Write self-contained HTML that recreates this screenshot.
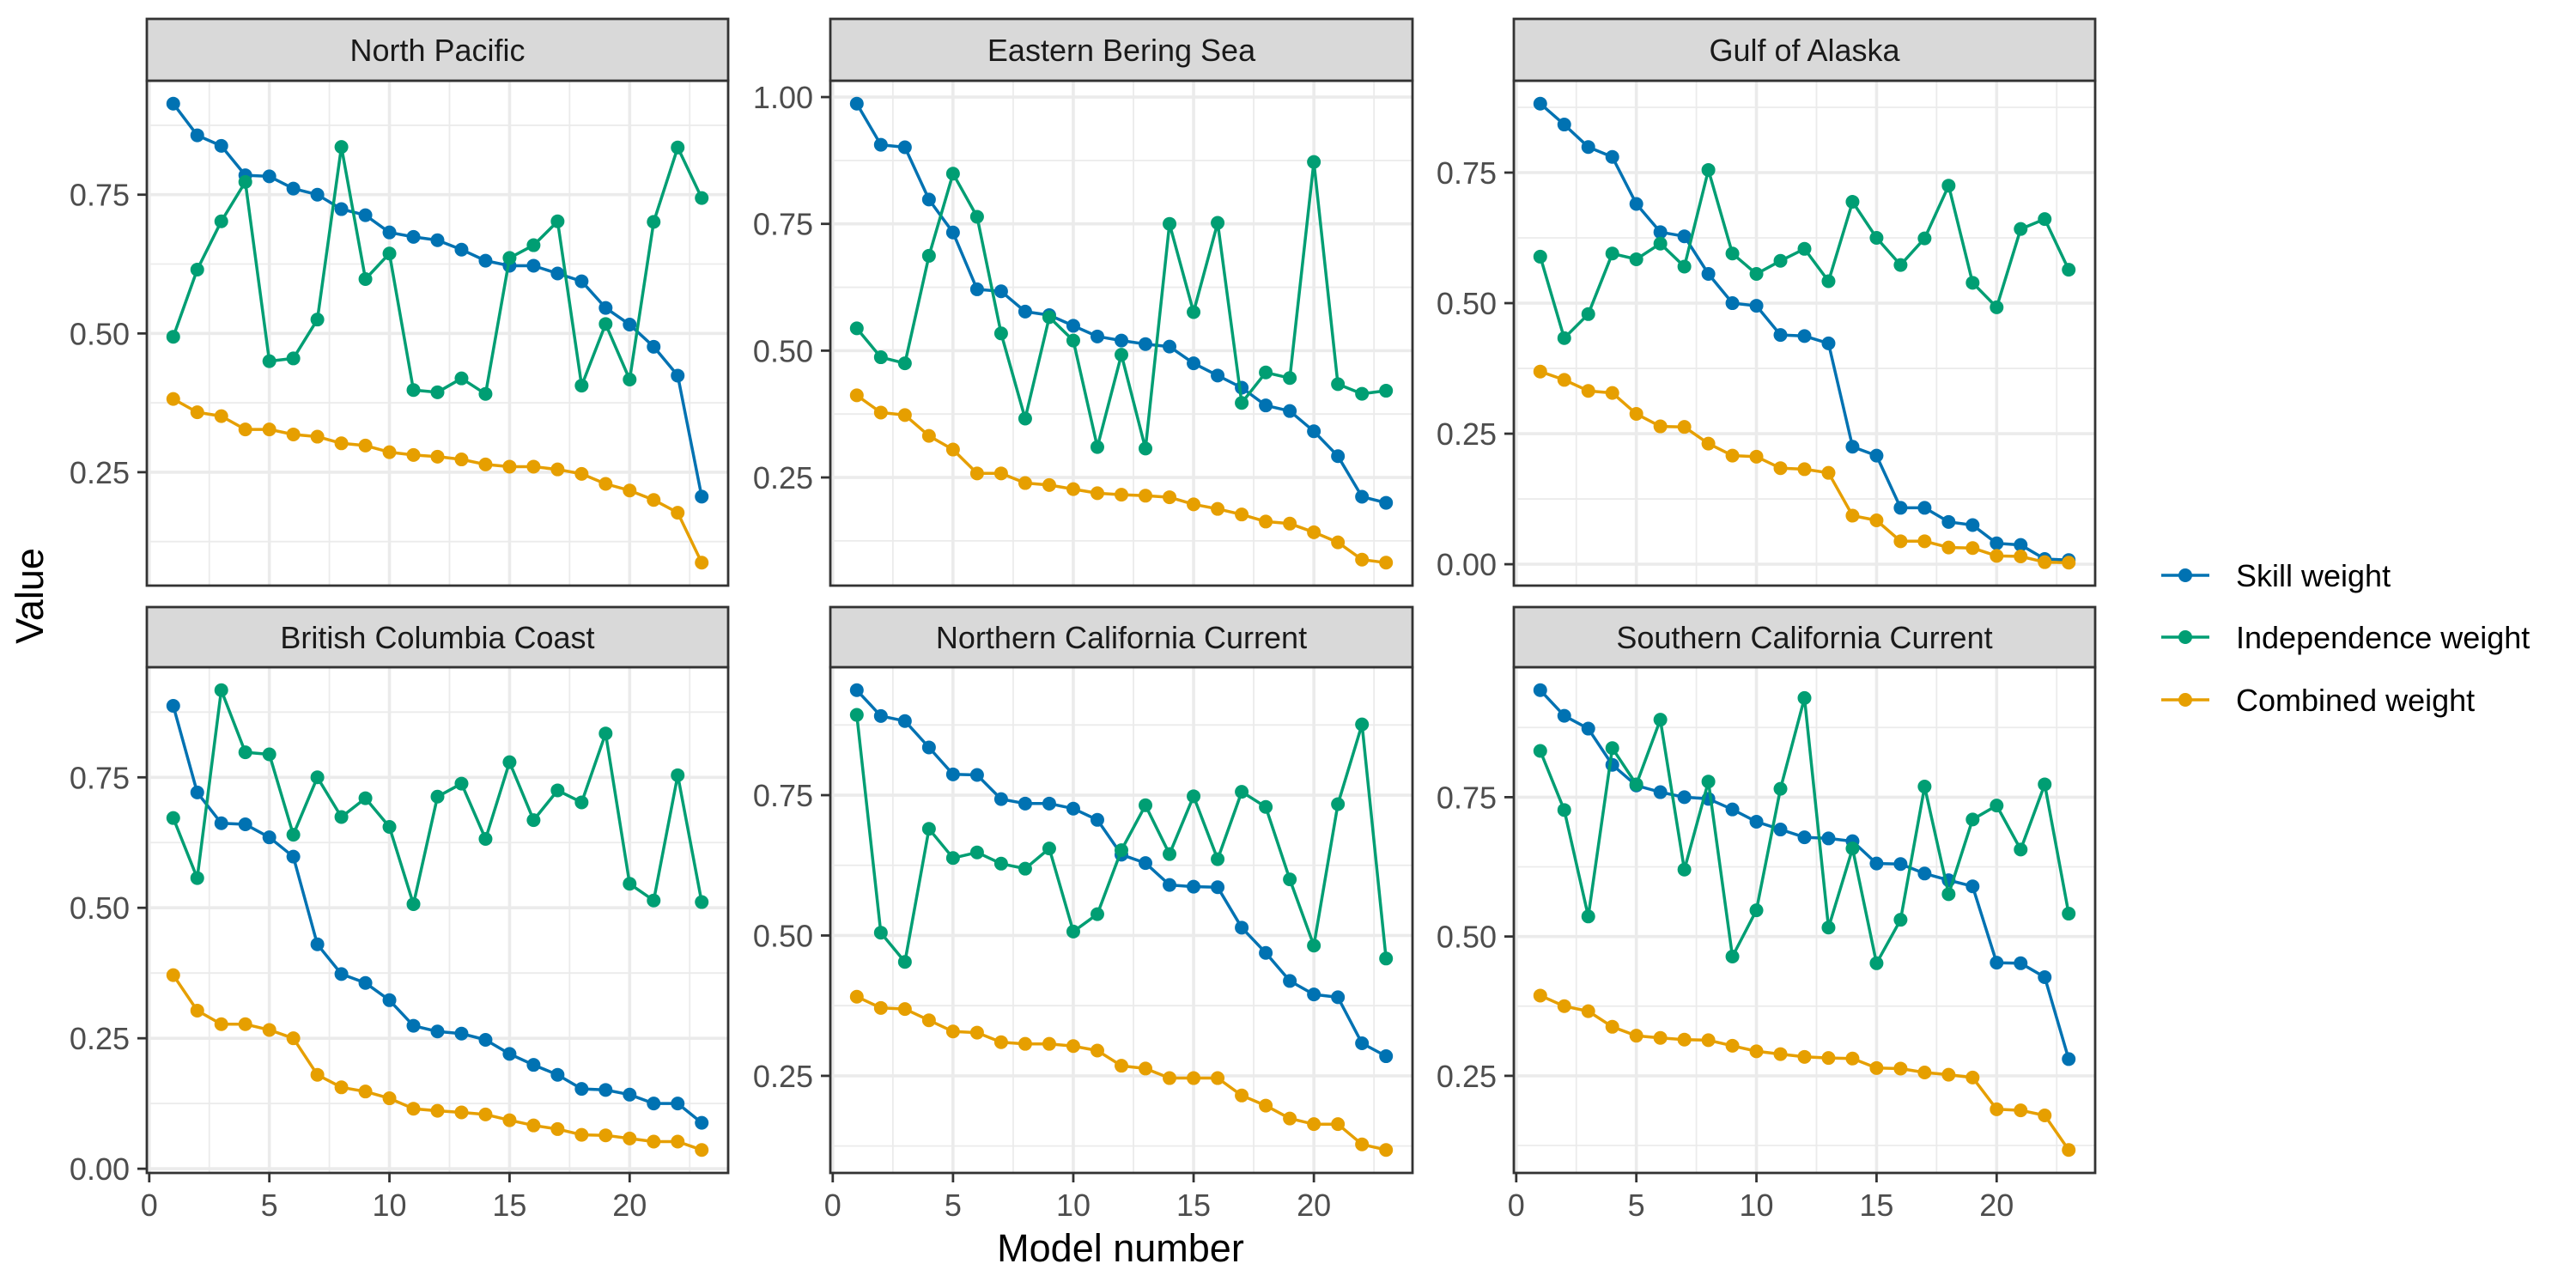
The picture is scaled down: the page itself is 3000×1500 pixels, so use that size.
<!DOCTYPE html>
<html><head><meta charset="utf-8">
<style>
html,body{margin:0;padding:0;background:#fff;}
svg{display:block;font-family:"Liberation Sans",Arial,sans-serif;}
</style></head>
<body>
<svg id="chart" width="3000" height="1500" viewBox="0 0 3000 1500" xmlns="http://www.w3.org/2000/svg">
<rect width="3000" height="1500" fill="#ffffff"/>
<text x="0" y="0" transform="translate(50,694) rotate(-90)" text-anchor="middle" font-size="45" fill="#000">Value</text>
<text x="1305" y="1469" text-anchor="middle" font-size="45" fill="#000">Model number</text>
<g id="legend"></g>
</svg>
<script>
const panelNames = ["North Pacific","Eastern Bering Sea","Gulf of Alaska","British Columbia Coast","Northern California Current","Southern California Current"];
const seriesNames = ["Skill weight","Independence weight","Combined weight"];
const seriesColors = ["#0072B2","#009E73","#E69F00"];
const modelNumbers = [1,2,3,4,5,6,7,8,9,10,11,12,13,14,15,16,17,18,19,20,21,22,23];
const xTicks = [0,5,10,15,20];

const npSkill = [0.914,0.857,0.838,0.785,0.783,0.761,0.75,0.724,0.713,0.682,0.674,0.668,0.651,0.631,0.622,0.622,0.608,0.594,0.546,0.516,0.476,0.424,0.206];
const npIndep = [0.494,0.615,0.702,0.773,0.45,0.455,0.525,0.836,0.598,0.644,0.398,0.394,0.419,0.391,0.636,0.659,0.702,0.406,0.517,0.417,0.701,0.835,0.744];
const npComb  = [0.382,0.358,0.351,0.327,0.327,0.318,0.314,0.302,0.298,0.286,0.281,0.278,0.273,0.264,0.26,0.26,0.255,0.247,0.229,0.217,0.2,0.177,0.087];

const ebsSkill = [0.987,0.906,0.901,0.798,0.733,0.621,0.617,0.577,0.57,0.549,0.528,0.52,0.513,0.508,0.475,0.451,0.427,0.392,0.381,0.341,0.292,0.212,0.2];
const ebsIndep = [0.544,0.487,0.475,0.687,0.849,0.764,0.534,0.366,0.566,0.52,0.31,0.492,0.307,0.75,0.576,0.752,0.397,0.457,0.446,0.872,0.434,0.415,0.421];
const ebsComb  = [0.412,0.378,0.373,0.332,0.305,0.258,0.258,0.239,0.235,0.227,0.219,0.216,0.214,0.211,0.197,0.188,0.177,0.163,0.159,0.142,0.122,0.088,0.082];

const goaSkill = [0.882,0.842,0.799,0.78,0.69,0.636,0.628,0.556,0.5,0.495,0.439,0.437,0.423,0.225,0.208,0.108,0.108,0.081,0.075,0.04,0.037,0.01,0.008];
const goaIndep = [0.589,0.433,0.479,0.595,0.584,0.614,0.57,0.755,0.595,0.556,0.581,0.604,0.542,0.694,0.625,0.573,0.624,0.725,0.539,0.492,0.642,0.661,0.564];
const goaComb  = [0.369,0.353,0.332,0.328,0.288,0.264,0.263,0.231,0.208,0.206,0.184,0.182,0.175,0.093,0.084,0.044,0.044,0.032,0.031,0.016,0.015,0.004,0.003];

const bcSkill = [0.887,0.721,0.662,0.66,0.635,0.598,0.43,0.373,0.356,0.323,0.274,0.263,0.259,0.247,0.22,0.199,0.18,0.153,0.151,0.142,0.125,0.125,0.088];
const bcIndep = [0.672,0.557,0.917,0.798,0.794,0.64,0.75,0.674,0.71,0.655,0.507,0.713,0.738,0.632,0.779,0.668,0.725,0.702,0.834,0.546,0.514,0.754,0.511];
const bcComb  = [0.371,0.303,0.277,0.277,0.266,0.25,0.18,0.156,0.148,0.135,0.115,0.111,0.108,0.104,0.093,0.083,0.076,0.065,0.064,0.058,0.052,0.052,0.036];

const nccSkill = [0.937,0.891,0.882,0.835,0.787,0.786,0.743,0.735,0.735,0.726,0.706,0.644,0.629,0.59,0.587,0.586,0.514,0.469,0.419,0.395,0.39,0.308,0.285];
const nccIndep = [0.893,0.505,0.453,0.69,0.638,0.648,0.628,0.619,0.655,0.507,0.538,0.652,0.732,0.645,0.748,0.636,0.756,0.729,0.6,0.482,0.734,0.876,0.459];
const nccComb  = [0.391,0.371,0.369,0.349,0.329,0.327,0.31,0.307,0.307,0.303,0.295,0.268,0.263,0.246,0.246,0.246,0.215,0.197,0.174,0.164,0.164,0.128,0.118];

const sccSkill = [0.942,0.896,0.873,0.808,0.771,0.759,0.75,0.747,0.728,0.706,0.692,0.678,0.676,0.671,0.631,0.63,0.613,0.601,0.59,0.453,0.452,0.427,0.28];
const sccIndep = [0.833,0.727,0.536,0.838,0.773,0.889,0.62,0.778,0.464,0.547,0.765,0.928,0.516,0.658,0.452,0.53,0.769,0.576,0.71,0.735,0.656,0.773,0.541];
const sccComb  = [0.394,0.375,0.366,0.338,0.322,0.318,0.315,0.314,0.304,0.294,0.289,0.284,0.282,0.281,0.264,0.263,0.256,0.252,0.247,0.19,0.188,0.179,0.117];

const panelSeries = [
  [npSkill,npIndep,npComb],[ebsSkill,ebsIndep,ebsComb],[goaSkill,goaIndep,goaComb],
  [bcSkill,bcIndep,bcComb],[nccSkill,nccIndep,nccComb],[sccSkill,sccIndep,sccComb]
];

const NS="http://www.w3.org/2000/svg";
const svg=document.getElementById('chart');
function mk(tag,attrs,parent){const e=document.createElementNS(NS,tag);for(const k in attrs)e.setAttribute(k,attrs[k]);(parent||svg).appendChild(e);return e;}

const cols=[[171,848],[967,1645],[1763,2440]];
const rows=[{st:22,top:94,bot:682},{st:707,top:777,bot:1366}];

function fmt(v){return v.toFixed(2);}

panelSeries.forEach((series,pi)=>{
  const c=cols[pi%3], r=rows[Math.floor(pi/3)];
  const L=c[0],R=c[1],T=r.top,B=r.bot;
  const g=mk('g',{});
  
  
  const xmin=Math.min(...modelNumbers), xmax=Math.max(...modelNumbers);
  const xe=(xmax-xmin)*0.05, x0=xmin-xe, x1=xmax+xe;
  const xs=v=>L+(v-x0)/(x1-x0)*(R-L);
  const all=[].concat(...series);
  const ymin=Math.min(...all), ymax=Math.max(...all);
  const ye=(ymax-ymin)*0.05, y0=ymin-ye, y1=ymax+ye;
  const ys=v=>B-(v-y0)/(y1-y0)*(B-T);
  mk('rect',{x:L,y:T,width:R-L,height:B-T,fill:'#fff'},g);
  // minor grid
  for(let v=Math.floor(y0/0.125)*0.125; v<=y1; v+=0.125){
    if(v<y0) continue;
    const isMajor=Math.abs(v/0.25-Math.round(v/0.25))<1e-6;
    mk('line',{x1:L,x2:R,y1:ys(v),y2:ys(v),stroke:'#EBEBEB','stroke-width':isMajor?3.6:1.8},g);
  }
  for(let v=-2.5; v<=x1; v+=2.5){
    if(v<x0) continue;
    const isMajor=Math.abs(v/5-Math.round(v/5))<1e-6;
    mk('line',{x1:xs(v),x2:xs(v),y1:T,y2:B,stroke:'#EBEBEB','stroke-width':isMajor?3.6:1.8},g);
  }
  // series
  series.forEach((vals,si)=>{
    const pts=vals.map((v,i)=>xs(modelNumbers[i]).toFixed(1)+','+ys(v).toFixed(1)).join(' ');
    const pl=mk('polyline',{points:pts,fill:'none',stroke:seriesColors[si],'stroke-width':3.5,'stroke-linejoin':'round'},g);
    
    
    vals.forEach((v,i)=>{
      const p=mk('circle',{cx:xs(modelNumbers[i]),cy:ys(v),r:8,fill:seriesColors[si]},g);
      
      
    });
  });
  mk('rect',{x:L,y:T,width:R-L,height:B-T,fill:'none',stroke:'#333','stroke-width':2.8},g);
  // strip
  mk('rect',{x:L,y:r.st,width:R-L,height:T-r.st,fill:'#D9D9D9',stroke:'#333','stroke-width':2.8},g);
  const st=mk('text',{x:(L+R)/2,y:(r.st+T)/2+13,'text-anchor':'middle','font-size':36,fill:'#1A1A1A'},g);
  st.textContent=panelNames[pi];
  
  
  // y ticks
  for(let v=Math.ceil(y0/0.25)*0.25; v<=y1+1e-9; v+=0.25){
    const y=ys(v);
    mk('line',{x1:L-11,x2:L,y1:y,y2:y,stroke:'#333','stroke-width':2.8},g);
    const t=mk('text',{x:L-20,y:y+13,'text-anchor':'end','font-size':36,fill:'#4D4D4D'},g);
    t.textContent=fmt(v);
    
    
  }
  // x ticks bottom row
  if(pi>=3){
    xTicks.forEach(v=>{
      const x=xs(v);
      mk('line',{x1:x,x2:x,y1:B,y2:B+11,stroke:'#333','stroke-width':2.8},g);
      const t=mk('text',{x:x,y:1416,'text-anchor':'middle','font-size':36,fill:'#4D4D4D'},g);
      t.textContent=v;
      
      
    });
  }
});

// legend
const lg=document.getElementById('legend');
const legY=[670,742,815];
seriesNames.forEach((n,i)=>{
  const e=mk('g',{},lg);
  
  
  mk('line',{x1:2517,x2:2573,y1:legY[i],y2:legY[i],stroke:seriesColors[i],'stroke-width':3.5},e);
  mk('circle',{cx:2545,cy:legY[i],r:8,fill:seriesColors[i]},e);
  const t=mk('text',{x:2604,y:legY[i]+13,'font-size':36,fill:'#000'},e);
  t.textContent=n;
});
</script>
</body></html>
